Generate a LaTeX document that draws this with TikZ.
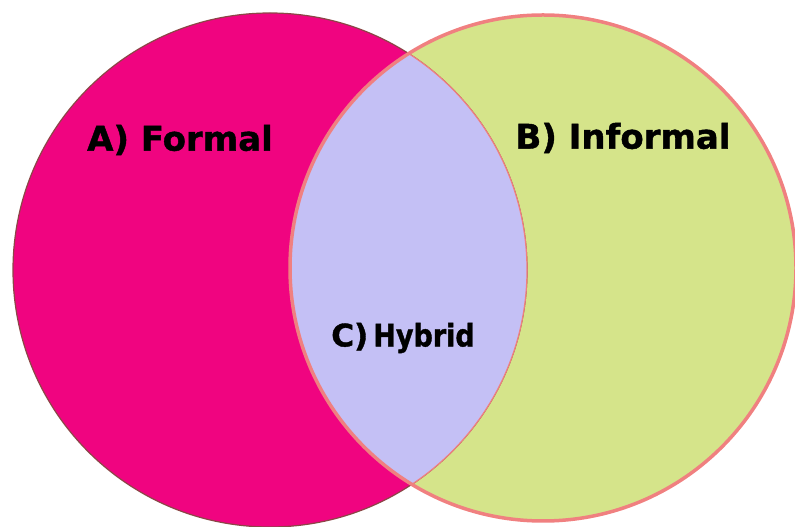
\documentclass[tikz,border=0pt]{standalone}
\usepackage{fontspec}
\setmainfont{DejaVu Sans}
\newfontfamily\heavyfont[FakeBold=1.2]{DejaVu Sans Bold}
\newfontfamily\narrowfont[FakeStretch=0.87, FakeBold=1.2]{DejaVu Sans Bold}
\definecolor{formalfill}{RGB}{240,4,128}
\definecolor{informalfill}{RGB}{213,228,138}
\definecolor{hybridfill}{RGB}{196,192,245}
\definecolor{formalline}{RGB}{140,70,70}
\definecolor{informalline}{RGB}{240,128,128}
\tikzset{
  setlabel/.style={font=\heavyfont\fontsize{34}{34}\selectfont, text=black},
  hybridlabel/.style={font=\heavyfont\fontsize{31}{31}\selectfont, text=black},
}
\begin{document}
\begin{tikzpicture}[x=1pt, y=1pt]
\useasboundingbox (0,0) rectangle (795,527);
% the two sets
\node (formal)[circle, fill=formalfill, minimum size=514pt, inner sep=0pt] at (270,257) {};
\node (informal)[circle, fill=informalfill, minimum size=506pt, inner sep=0pt] at (543,259) {};
\draw[formalline, line width=1.2pt] (formal.center) circle (257);
% overlap
\begin{scope}
\clip (formal.center) circle (257);
\fill[hybridfill] (informal.center) circle (253);
\end{scope}
\begin{scope}
\clip (informal.center) circle (253);
\draw[informalline, line width=1.2pt] (formal.center) circle (257);
\end{scope}
\draw[informalline, line width=3.5pt] (informal.center) circle (253);
% labels
\node (a)[setlabel] at (180,387) {A) Formal};
\node (b)[setlabel] at (623,389) {B) Informal};
\node (c)[hybridlabel] at (403,189) {C)\,{\narrowfont Hybrid}};
\end{tikzpicture}
\end{document}
